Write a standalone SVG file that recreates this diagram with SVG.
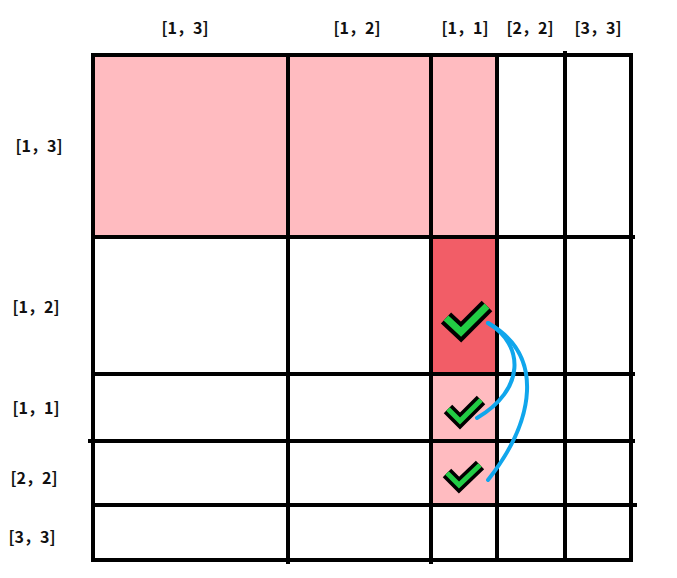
<svg xmlns="http://www.w3.org/2000/svg" width="677" height="578" viewBox="0 0 677 578">
<style>
.lbl{font-family:"Noto Sans CJK SC","Liberation Sans",sans-serif;font-weight:bold;font-size:16px;fill:#111;text-anchor:middle}
.g{stroke:#000;stroke-width:4;stroke-linecap:square;fill:none}
.ck-o{fill:none;stroke:#000;stroke-linejoin:miter;stroke-linecap:butt}
.ck-i{fill:none;stroke:#22CC44;stroke-linejoin:miter;stroke-linecap:butt}
.arc{fill:none;stroke:#10A6EC;stroke-width:4;stroke-linecap:round}
</style>
<rect width="677" height="578" fill="#fff"/>
<g id="fills">
<rect x="93" y="55" width="404" height="182" fill="#FFBBC0"/>
<rect x="431" y="237" width="66" height="137" fill="#F25D67"/>
<rect x="431" y="374" width="66" height="131" fill="#FFBBC0"/>
</g>
<g id="grid">
<line class="g" x1="93" y1="55" x2="631" y2="55"/>
<line class="g" x1="93" y1="237" x2="633" y2="237"/>
<line class="g" x1="93" y1="374" x2="633" y2="374"/>
<line class="g" x1="90" y1="441" x2="633" y2="441"/>
<line class="g" x1="93" y1="505" x2="635" y2="505"/>
<line class="g" x1="93" y1="560" x2="631" y2="560"/>
<line class="g" x1="93" y1="55" x2="93" y2="560"/>
<line class="g" x1="288" y1="55" x2="288" y2="562"/>
<line class="g" x1="431" y1="55" x2="431" y2="562"/>
<line class="g" x1="497" y1="55" x2="497" y2="560"/>
<line class="g" x1="565" y1="53" x2="565" y2="560"/>
<line class="g" x1="631" y1="55" x2="631" y2="560"/>
</g>
<g id="labels-top">
<text class="lbl" x="185" y="34">[1，3]</text>
<text class="lbl" x="357" y="34">[1，2]</text>
<text class="lbl" x="465" y="34">[1，1]</text>
<text class="lbl" x="530" y="34">[2，2]</text>
<text class="lbl" x="598" y="34">[3，3]</text>
</g>
<g id="labels-left">
<text class="lbl" x="39" y="152">[1，3]</text>
<text class="lbl" x="36" y="313">[1，2]</text>
<text class="lbl" x="36" y="414">[1，1]</text>
<text class="lbl" x="34" y="484">[2，2]</text>
<text class="lbl" x="32" y="543">[3，3]</text>
</g>
<g id="check1">
<polyline class="ck-o" stroke-width="15" points="446,318 461,332 487,306"/>
<polyline class="ck-i" stroke-width="7" points="446,318 461,332 487,306"/>
</g>
<g id="check2">
<polyline class="ck-o" stroke-width="12" points="448,409 460,421 481,400"/>
<polyline class="ck-i" stroke-width="5" points="448,409 460,421 481,400"/>
</g>
<g id="check3">
<polyline class="ck-o" stroke-width="12" points="447,473 459,485 480,465"/>
<polyline class="ck-i" stroke-width="5" points="447,473 459,485 480,465"/>
</g>
<g id="connectors">
<path class="arc" d="M488,323 C525,345 525,390 477,418"/>
<path class="arc" d="M488,323 C545,355 535,420 488,480"/>
</g>
</svg>
